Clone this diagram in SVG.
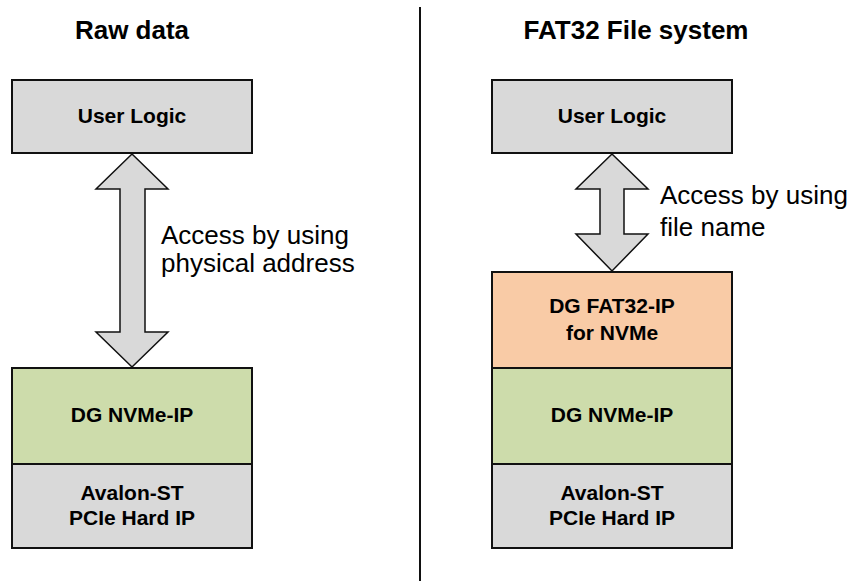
<svg xmlns="http://www.w3.org/2000/svg" width="853" height="581" viewBox="0 0 853 581">
<style>
.box{stroke:#111;stroke-width:2}
.grey{fill:#d9d9d9}
.green{fill:#cddcab}
.orange{fill:#f9cba6}
.bt{font-family:"Liberation Sans",Arial,sans-serif;font-weight:bold;font-size:21px;fill:#000;text-anchor:middle}
.title{font-family:"Liberation Sans",Arial,sans-serif;font-weight:bold;font-size:26px;fill:#000;text-anchor:middle}
.lbl{font-family:"Liberation Sans",Arial,sans-serif;font-size:26px;fill:#000}
.arr{fill:#d9d9d9;stroke:#111;stroke-width:1.5;stroke-linejoin:miter}
</style>
<rect width="853" height="581" fill="#fff"/>
<text class="title" x="132" y="39">Raw data</text>
<text class="title" x="636" y="39">FAT32 File system</text>
<line x1="420" y1="7" x2="420" y2="581" stroke="#111" stroke-width="2"/>
<g id="left-user-logic"><rect class="box grey" x="12" y="80" width="240" height="73"/><text class="bt" x="132" y="123">User Logic</text></g>
<g id="left-nvme"><rect class="box green" x="12" y="368" width="240" height="96"/><text class="bt" x="132" y="422">DG NVMe-IP</text></g>
<g id="left-pcie"><rect class="box grey" x="12" y="464" width="240" height="84"/><text class="bt" x="132" y="500">Avalon-ST</text><text class="bt" x="132" y="525">PCIe Hard IP</text></g>
<g id="right-user-logic"><rect class="box grey" x="492" y="80" width="240" height="73"/><text class="bt" x="612" y="123">User Logic</text></g>
<g id="right-fat32"><rect class="box orange" x="492" y="272" width="240" height="96"/><text class="bt" x="612" y="313">DG FAT32-IP</text><text class="bt" x="612" y="340">for NVMe</text></g>
<g id="right-nvme"><rect class="box green" x="492" y="368" width="240" height="96"/><text class="bt" x="612" y="422">DG NVMe-IP</text></g>
<g id="right-pcie"><rect class="box grey" x="492" y="464" width="240" height="84"/><text class="bt" x="612" y="500">Avalon-ST</text><text class="bt" x="612" y="525">PCIe Hard IP</text></g>
<g id="connectors">
<polygon class="arr" points="132,154 96,189 120,189 120,332 96,332 132,367 168,332 145,332 145,189 168,189"/>
<polygon class="arr" points="612,154 576,189 600,189 600,234 576,234 612,271 648,234 624,234 624,189 648,189"/>
<text class="lbl" x="161" y="244">Access by using</text>
<text class="lbl" x="161" y="272">physical address</text>
<text class="lbl" x="660" y="204">Access by using</text>
<text class="lbl" x="660" y="236">file name</text>
</g>
</svg>
